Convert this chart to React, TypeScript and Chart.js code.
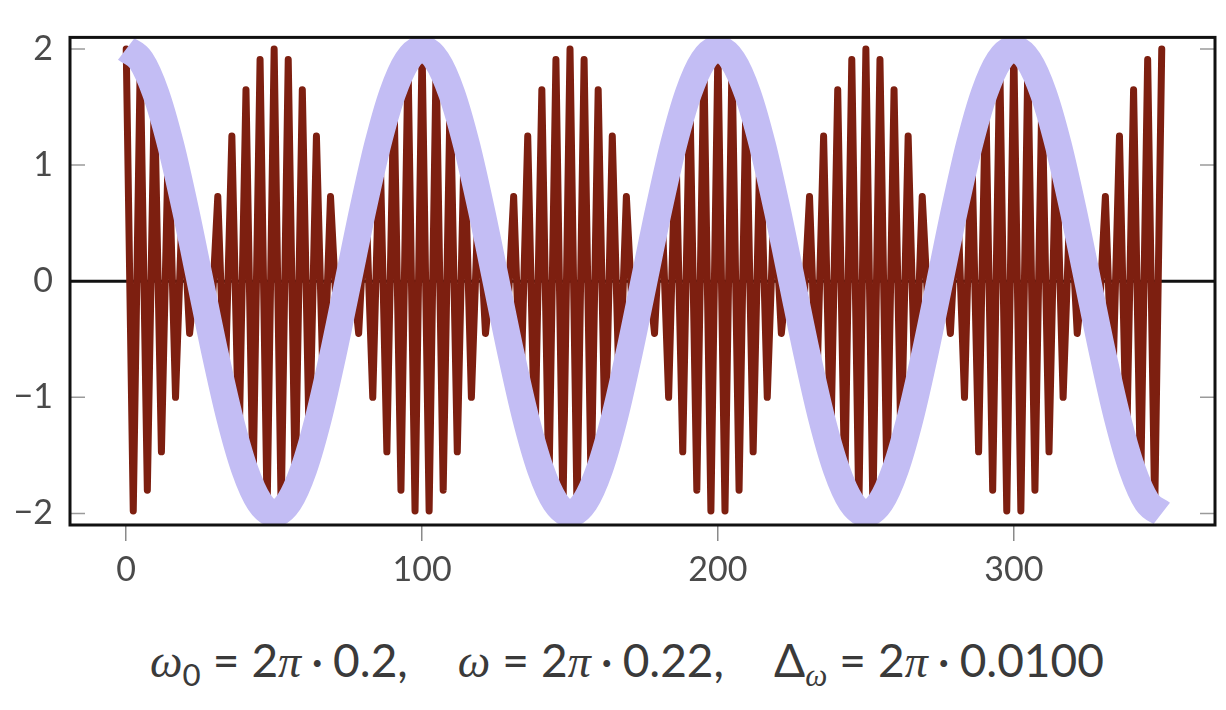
import React, { useEffect, useRef } from 'react';
import { Chart, registerables } from 'chart.js';

Chart.register(...registerables);

// Red beat signal: turning points of cos(ω0 t) + cos(ω t)
const RED_T = [
  0, 2.38, 4.76, 7.14, 9.52, 11.9, 14.29, 16.67, 19.05, 21.43, 23.81, 26.19, 28.57, 30.95, 33.33, 35.71, 38.1, 40.48, 42.86, 45.24, 47.62,
  50, 52.38, 54.76, 57.14, 59.52, 61.9, 64.29, 66.67, 69.05, 71.43, 73.81, 76.19, 78.57, 80.95, 83.33, 85.71, 88.1, 90.48, 92.86, 95.24, 97.62,
  100, 102.38, 104.76, 107.14, 109.52, 111.9, 114.29, 116.67, 119.05, 121.43, 123.81, 126.19, 128.57, 130.95, 133.33, 135.71, 138.1, 140.48, 142.86, 145.24, 147.62,
  150, 152.38, 154.76, 157.14, 159.52, 161.9, 164.29, 166.67, 169.05, 171.43, 173.81, 176.19, 178.57, 180.95, 183.33, 185.71, 188.1, 190.48, 192.86, 195.24, 197.62,
  200, 202.38, 204.76, 207.14, 209.52, 211.9, 214.29, 216.67, 219.05, 221.43, 223.81, 226.19, 228.57, 230.95, 233.33, 235.71, 238.1, 240.48, 242.86, 245.24, 247.62,
  250, 252.38, 254.76, 257.14, 259.52, 261.9, 264.29, 266.67, 269.05, 271.43, 273.81, 276.19, 278.57, 280.95, 283.33, 285.71, 288.1, 290.48, 292.86, 295.24, 297.62,
  300, 302.38, 304.76, 307.14, 309.52, 311.9, 314.29, 316.67, 319.05, 321.43, 323.81, 326.19, 328.57, 330.95, 333.33, 335.71, 338.1, 340.48, 342.86, 345.24, 347.62,
  350,
];
const RED_Y = [
  2, -1.98, 1.91, -1.8, 1.65, -1.47, 1.25, -1, 0.73, -0.45, 0.15, 0.15, -0.45, 0.73, -1, 1.25, -1.47, 1.65, -1.8, 1.91, -1.98,
  2, -1.98, 1.91, -1.8, 1.65, -1.47, 1.25, -1, 0.73, -0.45, 0.15, 0.15, -0.45, 0.73, -1, 1.25, -1.47, 1.65, -1.8, 1.91, -1.98,
  2, -1.98, 1.91, -1.8, 1.65, -1.47, 1.25, -1, 0.73, -0.45, 0.15, 0.15, -0.45, 0.73, -1, 1.25, -1.47, 1.65, -1.8, 1.91, -1.98,
  2, -1.98, 1.91, -1.8, 1.65, -1.47, 1.25, -1, 0.73, -0.45, 0.15, 0.15, -0.45, 0.73, -1, 1.25, -1.47, 1.65, -1.8, 1.91, -1.98,
  2, -1.98, 1.91, -1.8, 1.65, -1.47, 1.25, -1, 0.73, -0.45, 0.15, 0.15, -0.45, 0.73, -1, 1.25, -1.47, 1.65, -1.8, 1.91, -1.98,
  2, -1.98, 1.91, -1.8, 1.65, -1.47, 1.25, -1, 0.73, -0.45, 0.15, 0.15, -0.45, 0.73, -1, 1.25, -1.47, 1.65, -1.8, 1.91, -1.98,
  2, -1.98, 1.91, -1.8, 1.65, -1.47, 1.25, -1, 0.73, -0.45, 0.15, 0.15, -0.45, 0.73, -1, 1.25, -1.47, 1.65, -1.8, 1.91, -1.98,
  2,
];

// Lavender envelope curve
const LAV_T = [
  0, 5, 10, 15, 20, 25, 30, 35, 40, 45, 50, 55, 60, 65, 70, 75, 80, 85, 90, 95,
  100, 105, 110, 115, 120, 125, 130, 135, 140, 145, 150, 155, 160, 165, 170, 175, 180, 185, 190, 195,
  200, 205, 210, 215, 220, 225, 230, 235, 240, 245, 250, 255, 260, 265, 270, 275, 280, 285, 290, 295,
  300, 305, 310, 315, 320, 325, 330, 335, 340, 345, 350,
];
const LAV_Y = [
  2, 1.902, 1.618, 1.176, 0.618, 0, -0.618, -1.176, -1.618, -1.902, -2, -1.902, -1.618, -1.176, -0.618, 0, 0.618, 1.176, 1.618, 1.902,
  2, 1.902, 1.618, 1.176, 0.618, 0, -0.618, -1.176, -1.618, -1.902, -2, -1.902, -1.618, -1.176, -0.618, 0, 0.618, 1.176, 1.618, 1.902,
  2, 1.902, 1.618, 1.176, 0.618, 0, -0.618, -1.176, -1.618, -1.902, -2, -1.902, -1.618, -1.176, -0.618, 0, 0.618, 1.176, 1.618, 1.902,
  2, 1.902, 1.618, 1.176, 0.618, 0, -0.618, -1.176, -1.618, -1.902, -2,
];

const X_TICKS = [0, 100, 200, 300];
const X_TICK_LABELS = ['0', '100', '200', '300'];
const Y_TICKS = [-2, -1, 0, 1, 2];
const Y_TICK_LABELS = ['−2', '−1', '0', '1', '2'];
const X_MIN = -19;
const X_MAX = 368;
const Y_MIN = -2.1;
const Y_MAX = 2.1;

const RED = '#7d1f10';
const LAVENDER = '#c3bdf4';
const LABEL_COLOR = '#4a4a4a';
const TICK_FONT = { family: 'Lato, "Liberation Sans", sans-serif', size: 34 };

const framePlugin = {
  id: 'frame',
  beforeDatasetsDraw(chart: any) {
    const { ctx, chartArea: a, scales } = chart;
    const ys = scales.y;
    ctx.save();
    ctx.strokeStyle = '#9a9a9a';
    ctx.lineWidth = 1.5;
    ctx.beginPath();
    for (const v of Y_TICKS) {
      const p = ys.getPixelForValue(v);
      ctx.moveTo(a.left, p);
      ctx.lineTo(a.left + 15, p);
      ctx.moveTo(a.right, p);
      ctx.lineTo(a.right - 15, p);
    }
    ctx.stroke();
    const y0 = ys.getPixelForValue(0);
    ctx.strokeStyle = '#111111';
    ctx.lineWidth = 3;
    ctx.beginPath();
    ctx.moveTo(a.left, y0);
    ctx.lineTo(a.right, y0);
    ctx.stroke();
    ctx.restore();
  },
  afterDatasetsDraw(chart: any) {
    const { ctx, chartArea: a } = chart;
    ctx.save();
    ctx.strokeStyle = '#111111';
    ctx.lineWidth = 3;
    ctx.strokeRect(a.left, a.top, a.right - a.left, a.bottom - a.top);
    ctx.restore();
  },
};

export default function App() {
  const canvasRef = useRef<HTMLCanvasElement | null>(null);

  useEffect(() => {
    const canvas = canvasRef.current;
    if (!canvas) return;
    const redData = RED_T.map((t, i) => ({ x: t, y: RED_Y[i] }));
    const lavData = LAV_T.map((t, i) => ({ x: t, y: LAV_Y[i] }));
    const chart = new Chart(canvas, {
      type: 'line',
      data: {
        datasets: [
          {
            label: 'envelope',
            data: lavData,
            borderColor: LAVENDER,
            borderWidth: 27,
            pointRadius: 0,
            cubicInterpolationMode: 'monotone',
            borderCapStyle: 'butt',
            fill: false,
            clip: 0,
          },
          {
            label: 'signal',
            data: redData,
            borderColor: RED,
            borderWidth: 7,
            pointRadius: 0,
            tension: 0,
            borderJoinStyle: 'round',
            borderCapStyle: 'round',
            fill: false,
            clip: 0,
          },
        ],
      },
      options: {
        responsive: false,
        animation: false,
        events: [],
        layout: { padding: { top: 34, right: 11, left: 0, bottom: 0 } },
        plugins: {
          legend: { display: false },
          tooltip: { enabled: false },
          title: { display: false },
        },
        scales: {
          x: {
            type: 'linear',
            min: X_MIN,
            max: X_MAX,
            afterBuildTicks: (s: any) => {
              s.ticks = X_TICKS.map((v) => ({ value: v }));
            },
            afterFit: (s: any) => {
              s.height = 75;
            },
            ticks: {
              callback: (v: any) => {
                const i = X_TICKS.indexOf(Number(v));
                return i >= 0 ? X_TICK_LABELS[i] : '';
              },
              font: TICK_FONT,
              color: LABEL_COLOR,
              padding: 9,
              maxRotation: 0,
              autoSkip: false,
            },
            grid: {
              drawOnChartArea: false,
              drawTicks: true,
              tickLength: 16,
              color: '#8a8a8a',
              lineWidth: 1.5,
            },
            border: { display: false },
          },
          y: {
            type: 'linear',
            min: Y_MIN,
            max: Y_MAX,
            afterBuildTicks: (s: any) => {
              s.ticks = Y_TICKS.map((v) => ({ value: v }));
            },
            afterFit: (s: any) => {
              s.width = 70;
            },
            ticks: {
              callback: (v: any) => {
                const i = Y_TICKS.indexOf(Number(v));
                return i >= 0 ? Y_TICK_LABELS[i] : '';
              },
              font: TICK_FONT,
              color: LABEL_COLOR,
              padding: 17,
              autoSkip: false,
            },
            grid: { display: false, drawTicks: false },
            border: { display: false },
          },
        },
      },
      plugins: [framePlugin],
    });
    return () => chart.destroy();
  }, []);

  const mathI: React.CSSProperties = {
    fontFamily: '"Liberation Serif", "DejaVu Serif", serif',
    fontStyle: 'italic',
  };
  const sub: React.CSSProperties = { fontSize: '0.68em', position: 'relative', top: '0.3em' };
  const eq: React.CSSProperties = { margin: '0 12px' };
  const dot: React.CSSProperties = { margin: '0 10px' };
  const gap: React.CSSProperties = { display: 'inline-block', width: 50 };

  return (
    <div style={{ position: 'absolute', left: 0, top: 0, width: 1226, height: 710, background: '#ffffff' }}>
      <canvas ref={canvasRef} width={1226} height={600} style={{ position: 'absolute', left: 0, top: 0, width: 1226, height: 600 }} />
      <div
        style={{
          position: 'absolute',
          left: 14,
          top: 630,
          width: 1226,
          textAlign: 'center',
          fontFamily: 'Lato, "Liberation Sans", sans-serif',
          fontSize: 46,
          lineHeight: '60px',
          color: '#3a3a3a',
          whiteSpace: 'nowrap',
        }}
      >
        <span style={mathI}>ω</span><span style={sub}>0</span>
        <span style={eq}>=</span>2<span style={mathI}>π</span><span style={dot}>·</span>0.2,
        <span style={gap} />
        <span style={mathI}>ω</span>
        <span style={eq}>=</span>2<span style={mathI}>π</span><span style={dot}>·</span>0.22,
        <span style={gap} />
        Δ<span style={{ ...sub, ...mathI }}>ω</span>
        <span style={eq}>=</span>2<span style={mathI}>π</span><span style={dot}>·</span>0.0100
      </div>
    </div>
  );
}
